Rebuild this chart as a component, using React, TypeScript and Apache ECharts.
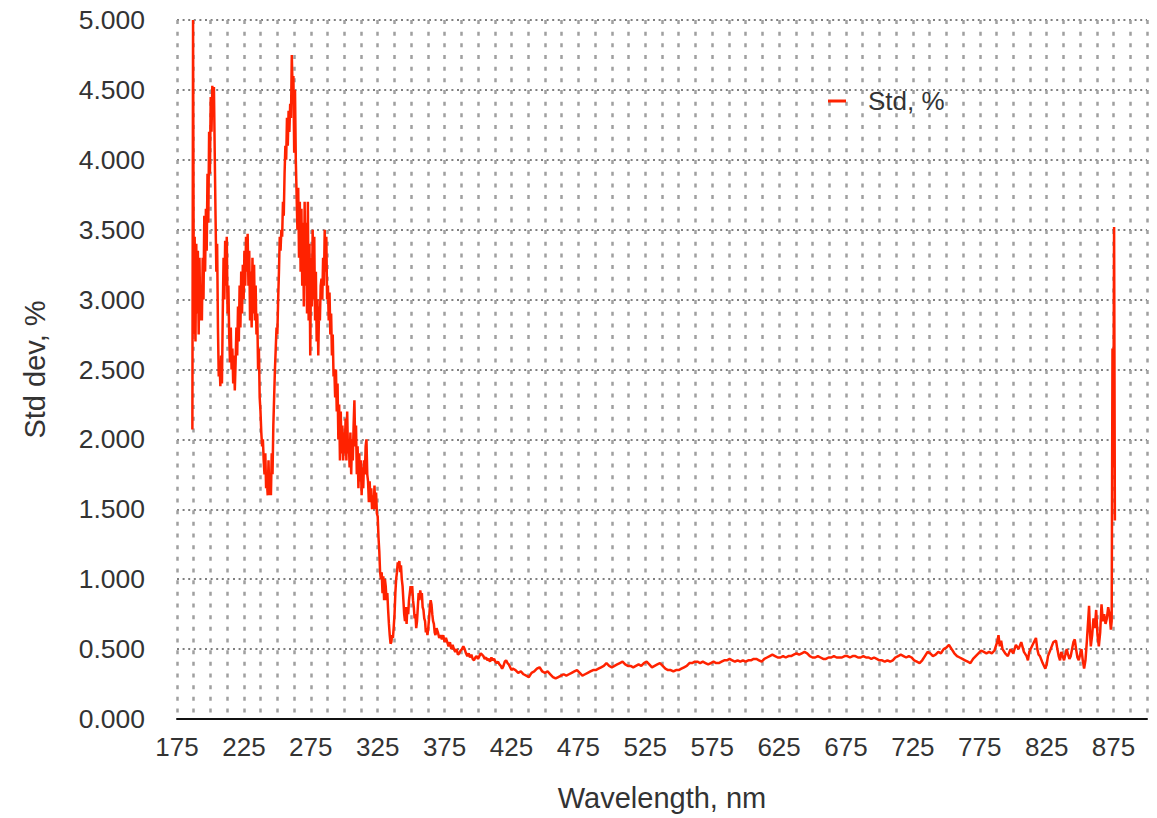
import React, { useEffect, useRef } from "react";
import * as echarts from "echarts";

// Wavelength (nm) and standard deviation (%) samples of the measured spectrum.
const wavelengths: number[] = [
  186.5, 187, 187.6, 188.2, 188.8, 189.4, 190, 190.6, 191.2, 191.8, 192.4, 193, 193.6, 194.2, 194.8, 195.4, 196, 196.6, 197.2, 197.8,
  198.4, 199, 199.6, 200.2, 200.8, 201.4, 202, 202.6, 203.2, 203.8, 204.4, 205, 205.6, 206.2, 206.8, 207.4, 208, 208.6, 209.2, 209.8,
  210.4, 211, 211.6, 212.2, 212.8, 213.4, 214, 214.6, 215.2, 215.8, 216.4, 217, 217.6, 218.2, 218.8, 219.4, 220, 220.6, 221.2, 221.8,
  222.4, 223, 223.6, 224.2, 224.8, 225.4, 226, 226.6, 227.2, 227.8, 228.4, 229, 229.6, 230.2, 230.8, 231.4, 232, 232.6, 233.2, 233.8,
  234.4, 235, 235.6, 236.2, 236.8, 237.4, 238, 238.6, 239.2, 239.8, 240.4, 241, 241.6, 242.2, 242.8, 243.4,
  244, 244.6, 245.2, 245.8, 246.4, 247, 247.6, 248.2, 248.8, 249.4, 250, 250.6, 251.2, 251.8, 252.4, 253, 253.6, 254.2, 254.8, 255.4,
  256, 256.6, 257.2, 257.8, 258.4, 259, 259.6, 260.2, 260.8, 261.4, 262, 262.6, 263.2, 263.8, 264.4, 265, 265.6, 266.2, 266.8, 267.4,
  268, 268.6, 269.2, 269.8, 270.4, 271, 271.6, 272.2, 272.8, 273.4, 274, 274.6, 275.2, 275.8, 276.4, 277, 277.6, 278.2, 278.8, 279.4,
  280, 280.6, 281.2, 281.8, 282.4, 283, 283.6, 284.2, 284.8, 285.4, 286, 286.6, 287.2, 287.8, 288.4, 289,
  289.6, 290.2, 290.8, 291.4, 292, 292.6, 293.2, 293.8, 294.4, 295, 295.6, 296.2, 296.8, 297.4, 298, 298.6, 299.2, 299.8, 300.4, 301,
  301.6, 302.2, 302.8, 303.4, 304, 304.6, 305.2, 305.8, 306.4, 307, 307.6, 308.2, 308.8, 309.4, 310, 310.6, 311.2, 311.8, 312.4, 313,
  313.6, 314.2, 314.8, 315.4, 316, 316.6, 317.2, 317.8, 318.4, 319, 319.6, 320.2, 320.8, 321.4, 322, 322.6, 323.2, 323.8, 324.4, 325,
  325.6, 326.2, 326.8, 327.4, 328, 328.6, 329.2, 329.8, 330.4, 331, 331.6, 332.2, 332.8, 333.4, 334, 334.6, 335.2, 335.8, 336.4, 337,
  337.6, 338.2, 338.8, 339.4, 340, 340.6, 341.2, 341.8, 342.4, 343, 343.6, 344.2, 344.8, 345.4, 346, 346.6, 347.2, 347.8, 348.4, 349,
  349.6, 350.2, 350.8, 351.4, 352, 352.6, 353.2, 353.8, 354.4, 355, 355.6, 356.2, 356.8, 357.4, 358, 358.6, 359.2, 359.8, 360.4, 361,
  361.6, 362.2, 362.8, 363.4, 364, 364.6, 365.2, 365.8, 366.4, 367, 367.6, 368.2, 369, 370, 371, 372, 373, 374, 375, 376,
  377, 378, 379, 380, 381, 382, 383, 384, 385, 386, 387, 388, 389, 390, 391, 392, 393, 394, 395, 396,
  397, 398, 399, 400, 401, 402, 403, 404, 405, 406, 407, 408, 409, 410, 411, 412, 413, 414, 415, 416,
  417, 418, 419, 420, 421, 422, 423, 424, 425, 426, 428, 430, 432, 434, 436, 438, 440, 442, 444, 446,
  448, 450, 452, 454, 456, 458, 460, 462, 464, 466, 468, 470, 472, 474, 476, 478, 480, 482, 484, 486,
  488, 490, 492, 494, 496, 498, 500, 502, 504, 506, 508, 510, 512, 514, 516, 518, 520, 522, 524, 526,
  528, 530, 532, 534, 536, 538, 540, 542, 544, 546, 548, 550, 552, 554, 556, 558, 560, 562, 564, 566,
  568, 570, 572, 574, 576, 578, 580, 582, 584, 586, 588, 590, 592, 594, 596, 598, 600, 602, 604, 606,
  608, 610, 612, 614, 616, 618, 620, 622, 624, 626, 628, 630, 632, 634, 636, 638, 640, 642, 644, 646,
  648, 650, 652, 654, 656, 658, 660, 662, 664, 666, 668, 670, 672, 674, 676, 678, 680, 682, 684, 686,
  688, 690, 692, 694, 696, 698, 700, 702, 704, 706, 708, 710, 712, 714, 716, 718, 720, 722, 724, 726,
  728, 730, 732, 734, 736, 738, 740, 742, 744, 746, 748, 750, 752, 754, 756, 758, 760, 762, 764, 766,
  768, 770, 772, 774, 776, 778, 780, 782, 784, 786, 788, 789, 790, 791, 792, 794, 796, 798, 800, 802,
  804, 806, 808, 810, 811, 812, 814, 816, 817, 818, 819, 820, 822, 824, 825, 826, 828, 830, 832, 833,
  834, 835, 836, 838, 840, 841, 842, 843, 844, 845, 846, 847, 848, 849, 850, 851, 852, 853, 854, 855,
  856, 856.7, 857.4, 858, 859, 860, 861, 862, 863, 864, 865, 866, 867, 868, 869, 870, 871, 872, 873, 873.6,
  874.2, 874.8, 875.4, 876,
];

const stdDev: number[] = [
  2.07, 5.0, 2.75, 3.45, 2.7, 3.4, 2.9, 3.35, 2.75, 3.3, 2.85, 3.1, 2.85, 3.3, 3.0, 3.6, 3.2, 3.65, 3.35, 3.9,
  3.55, 4.2, 3.9, 4.45, 4.2, 4.53, 4.35, 4.52, 4.05, 3.6, 3.2, 3.4, 2.8, 2.45, 2.55, 2.38, 2.6, 2.4, 2.9, 3.3,
  3.0, 3.42, 3.1, 3.45, 2.9, 3.1, 2.75, 2.55, 2.8, 2.5, 2.65, 2.4, 2.6, 2.35, 2.55, 2.8, 2.6, 2.95, 2.7, 3.1,
  2.8, 3.2, 2.9, 3.25, 3.0, 3.35, 3.1, 3.45, 3.2, 3.47, 3.1, 3.35, 2.85, 3.2, 2.8, 3.3, 2.9, 3.25, 2.85, 3.1,
  2.75, 2.9, 2.5, 2.65, 2.3, 2.2, 2.05, 1.95, 2.0, 1.85, 1.75, 1.9, 1.65, 1.7, 1.6, 1.85,
  1.6, 1.75, 1.6, 1.9, 1.75, 2.1, 2.3, 2.5, 2.65, 2.8, 2.75, 3.0, 3.2, 3.45, 3.35, 3.5, 3.45, 3.7, 3.6, 3.9,
  4.1, 4.0, 4.3, 4.1, 4.35, 4.2, 4.4, 4.3, 4.75, 4.5, 4.6, 4.05, 4.5, 4.0, 3.75, 3.5, 3.8, 3.3, 3.7, 3.2,
  3.65, 3.1, 3.55, 2.95, 3.7, 3.1, 3.55, 2.9, 3.7, 2.85, 3.4, 2.6, 3.3, 2.95, 3.5, 3.0, 3.45, 2.85, 3.2, 2.7,
  3.0, 2.6, 2.95, 2.85, 3.1, 3.15, 3.0, 3.3, 3.1, 3.5, 3.2, 3.45, 3.0, 3.1, 2.85, 3.05,
  2.75, 2.9, 2.6, 2.75, 2.45, 2.5, 2.3, 2.5, 2.2, 2.4, 2.0, 2.25, 1.85, 2.2, 1.9, 2.1, 1.85, 2.05, 1.9, 2.15,
  1.85, 2.2, 1.9, 2.0, 1.8, 2.05, 1.75, 2.0, 1.85, 2.1, 2.28, 1.95, 2.1, 1.75, 1.95, 1.65, 1.9, 1.7, 1.85, 1.6,
  1.8, 1.65, 1.85, 1.75, 1.95, 2.0, 1.75, 1.7, 1.55, 1.7, 1.55, 1.65, 1.5, 1.6, 1.5, 1.67, 1.5, 1.62, 1.47, 1.45,
  1.3, 1.2, 1.05, 1.0, 1.05, 0.9, 1.02, 0.85, 1.0, 0.95, 0.85, 0.9, 0.78, 0.68, 0.6, 0.54, 0.55, 0.6, 0.58, 0.66,
  0.75, 0.9, 1.0, 1.05, 1.12, 1.1, 1.13, 1.05, 1.1, 1.0, 0.95, 0.85, 0.75, 0.7, 0.8, 0.68, 0.8, 0.75, 0.85, 0.9,
  0.95, 0.9, 0.95, 0.85, 0.8, 0.72, 0.75, 0.65, 0.7, 0.8, 0.9, 0.85, 0.92, 0.88, 0.9, 0.8, 0.78, 0.72, 0.7, 0.62,
  0.65, 0.6, 0.65, 0.72, 0.8, 0.85, 0.82, 0.75, 0.7, 0.68, 0.62, 0.6, 0.65, 0.62, 0.58, 0.6, 0.57, 0.6, 0.55, 0.58,
  0.55, 0.52, 0.55, 0.5, 0.53, 0.5, 0.48, 0.5, 0.46, 0.47, 0.49, 0.5, 0.52, 0.5, 0.47, 0.45, 0.47, 0.44, 0.46, 0.43,
  0.42, 0.44, 0.45, 0.43, 0.45, 0.47, 0.46, 0.45, 0.43, 0.44, 0.42, 0.43, 0.41, 0.44, 0.42, 0.43, 0.41, 0.4, 0.41, 0.39,
  0.38, 0.36, 0.38, 0.41, 0.42, 0.4, 0.39, 0.37, 0.35, 0.36, 0.35, 0.33, 0.34, 0.32, 0.31, 0.3, 0.33, 0.34, 0.36, 0.37,
  0.34, 0.33, 0.34, 0.32, 0.3, 0.29, 0.3, 0.31, 0.32, 0.31, 0.32, 0.33, 0.34, 0.35, 0.33, 0.31, 0.32, 0.33, 0.34, 0.35,
  0.35, 0.36, 0.37, 0.38, 0.4, 0.38, 0.37, 0.38, 0.39, 0.4, 0.41, 0.39, 0.38, 0.38, 0.37, 0.38, 0.39, 0.38, 0.4, 0.41,
  0.39, 0.37, 0.38, 0.39, 0.4, 0.38, 0.36, 0.35, 0.35, 0.34, 0.35, 0.35, 0.36, 0.37, 0.38, 0.4, 0.4, 0.41, 0.41, 0.4,
  0.41, 0.4, 0.39, 0.4, 0.41, 0.4, 0.4, 0.41, 0.42, 0.42, 0.43, 0.42, 0.41, 0.42, 0.41, 0.42, 0.41, 0.42, 0.42, 0.43,
  0.43, 0.42, 0.41, 0.43, 0.44, 0.45, 0.46, 0.45, 0.44, 0.44, 0.45, 0.44, 0.45, 0.45, 0.46, 0.47, 0.46, 0.47, 0.48, 0.47,
  0.45, 0.44, 0.44, 0.45, 0.44, 0.43, 0.43, 0.44, 0.44, 0.45, 0.44, 0.44, 0.44, 0.45, 0.45, 0.44, 0.45, 0.45, 0.44, 0.44,
  0.45, 0.44, 0.44, 0.43, 0.44, 0.43, 0.42, 0.42, 0.41, 0.42, 0.41, 0.42, 0.44, 0.45, 0.46, 0.45, 0.44, 0.45, 0.44, 0.42,
  0.41, 0.4, 0.42, 0.45, 0.48, 0.47, 0.45, 0.46, 0.48, 0.47, 0.5, 0.51, 0.53, 0.5, 0.47, 0.45, 0.44, 0.43, 0.42, 0.41,
  0.4, 0.43, 0.45, 0.47, 0.49, 0.48, 0.47, 0.48, 0.47, 0.49, 0.55, 0.6, 0.52, 0.56, 0.5, 0.47, 0.45, 0.5, 0.47, 0.53,
  0.5, 0.55, 0.48, 0.45, 0.42, 0.48, 0.52, 0.56, 0.58, 0.5, 0.46, 0.45, 0.4, 0.36, 0.39, 0.45, 0.5, 0.55, 0.56, 0.5,
  0.45, 0.42, 0.48, 0.42, 0.5, 0.46, 0.43, 0.45, 0.5, 0.55, 0.57, 0.5, 0.44, 0.42, 0.46, 0.5, 0.42, 0.36, 0.42, 0.55,
  0.7, 0.81, 0.62, 0.52, 0.6, 0.72, 0.65, 0.78, 0.6, 0.52, 0.62, 0.82, 0.7, 0.75, 0.68, 0.72, 0.8, 0.75, 0.64, 0.7,
  2.65, 1.8, 3.52, 1.42,
];

const seriesName = "Std, %";
const xAxisTitle = "Wavelength, nm";
const yAxisTitle = "Std dev, %";

const FONT = "'Liberation Sans', Arial, Helvetica, sans-serif";

export default function App() {
  const ref = useRef<HTMLDivElement>(null);

  useEffect(() => {
    if (!ref.current) return;
    const chart = echarts.init(ref.current, undefined, { renderer: "svg" });
    const points = wavelengths.map((w, i) => [w, stdDev[i]]);

    chart.setOption({
      animation: false,
      backgroundColor: "#ffffff",
      textStyle: { fontFamily: FONT },
      grid: { left: 177, right: 10, top: 20, bottom: 99, containLabel: false },
      legend: {
        show: true,
        left: 828,
        top: 88,
        padding: 0,
        icon: "rect",
        itemWidth: 18,
        itemHeight: 3,
        itemGap: 0,
        textStyle: { fontSize: 26, color: "#333", fontFamily: FONT, padding: [0, 0, 0, 17] },
        data: [seriesName],
      },
      xAxis: {
        type: "value",
        min: 175,
        max: 900,
        interval: 12.5,
        name: xAxisTitle,
        nameLocation: "middle",
        nameGap: 64,
        nameTextStyle: { fontSize: 29, color: "#333", fontFamily: FONT },
        axisLine: { show: true, lineStyle: { color: "#111", width: 2 } },
        axisTick: { show: false },
        axisLabel: {
          fontSize: 26,
          color: "#333",
          margin: 15,
          fontFamily: FONT,
          showMaxLabel: false,
          formatter: (v: number) => (Math.abs((v - 175) % 50) < 1e-6 ? String(v) : ""),
        },
        splitLine: {
          show: true,
          lineStyle: { color: "#a0a0a0", width: 2.5, type: [4, 7.67] },
        },
      },
      yAxis: {
        type: "value",
        min: 0,
        max: 5,
        interval: 0.5,
        name: yAxisTitle,
        nameLocation: "middle",
        nameGap: 128,
        nameRotate: 90,
        nameTextStyle: { fontSize: 29, color: "#333", fontFamily: FONT },
        axisLine: { show: false },
        axisTick: { show: false },
        axisLabel: {
          fontSize: 26.5,
          color: "#333",
          margin: 32,
          fontFamily: FONT,
          formatter: (v: number) => v.toFixed(3),
        },
        splitLine: {
          show: true,
          lineStyle: { color: "#555", width: 1.5, type: [2, 3.6] },
        },
      },
      series: [
        {
          name: seriesName,
          type: "line",
          data: points,
          showSymbol: false,
          symbol: "none",
          lineStyle: { color: "#ff2200", width: 2.5 },
          itemStyle: { color: "#ff2200" },
          z: 3,
        },
      ],
    });

    return () => chart.dispose();
  }, []);

  return (
    <div
      ref={ref}
      style={{ position: "fixed", left: 0, top: 0, width: 1157, height: 818, background: "#fff" }}
    />
  );
}
